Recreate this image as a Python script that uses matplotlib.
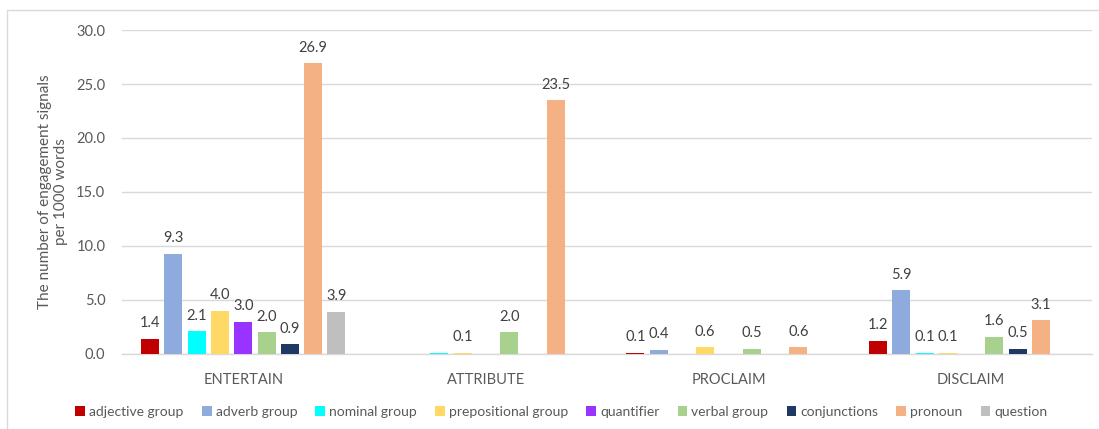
import numpy as np
import matplotlib.pyplot as plt
from matplotlib.patches import Rectangle

plt.rcParams['font.family'] = ['Lato', 'DejaVu Sans']

categories = ['ENTERTAIN', 'ATTRIBUTE', 'PROCLAIM', 'DISCLAIM']
series = ['adjective group', 'adverb group', 'nominal group', 'prepositional group',
          'quantifier', 'verbal group', 'conjunctions', 'pronoun', 'question']
colors = ['#c00000', '#8faadc', '#00ffff', '#ffd966', '#9933ff',
          '#a9d18e', '#203864', '#f4b183', '#bfbfbf']

# values per series, one entry per category (nan = no bar)
nan = np.nan
adjective = [1.4, nan, 0.1, 1.2]
adverb = [9.3, nan, 0.4, 5.9]
nominal = [2.1, 0.05, nan, 0.1]
prepositional = [4.0, 0.1, 0.6, 0.1]
quantifier = [3.0, nan, nan, nan]
verbal = [2.0, 2.0, 0.5, 1.6]
conjunctions = [0.9, nan, nan, 0.5]
pronoun = [26.9, 23.5, 0.6, 3.1]
question = [3.9, nan, nan, nan]
values = [adjective, adverb, nominal, prepositional, quantifier,
          verbal, conjunctions, pronoun, question]
# the nominal bar under ATTRIBUTE has no value label
hidden_labels = {(2, 1)}

fig = plt.figure(figsize=(10.99, 4.29), dpi=100)
ax = fig.add_axes([0.111, 0.175, 0.883, 0.755])

x = np.arange(len(categories))
step = 0.096
width = 0.074
for i, (name, vals, c) in enumerate(zip(series, values, colors)):
    pos = x + (i - 4) * step
    ax.bar(pos, vals, width=width, color=c, label=name, zorder=3)
    for j, v in enumerate(vals):
        if np.isnan(v) or (i, j) in hidden_labels:
            continue
        ax.text(pos[j], v + 0.8, f'{v:.1f}', ha='center', va='bottom',
                fontsize=10.5, color='#404040')

ax.set_xlim(-0.5, 3.5)
ax.set_ylim(0, 30)
ticks = np.arange(0, 30.1, 5)
ax.set_yticks(ticks)
ax.set_yticklabels([f'{t:.1f}' for t in ticks])
ax.set_xticks(x)
ax.set_xticklabels(categories)
ax.tick_params(axis='both', length=0, labelsize=10.5, colors='#595959')
ax.tick_params(axis='x', pad=14)
ax.tick_params(axis='y', pad=12)
ax.grid(axis='y', color='#d9d9d9', linewidth=1, zorder=0)
for s in ['top', 'right', 'left']:
    ax.spines[s].set_visible(False)
ax.spines['bottom'].set_color('#d9d9d9')
ax.spines['bottom'].set_linewidth(1)
ax.set_ylabel('The number of engagement signals\nper 1000 words', fontsize=11,
              color='#595959', labelpad=6)

ax.legend(loc='upper center', bbox_to_anchor=(0.453, -0.122), ncol=9, frameon=False,
          fontsize=10, handlelength=0.7, handleheight=0.7, handletextpad=0.3,
          columnspacing=1.3, labelcolor='#595959')

# outer chart frame
fig.patches.append(Rectangle((0.006, -0.1), 1.2, 1.077, transform=fig.transFigure,
                             fill=False, edgecolor='#d9d9d9', linewidth=1))

fig.savefig('out.png', dpi=100)
